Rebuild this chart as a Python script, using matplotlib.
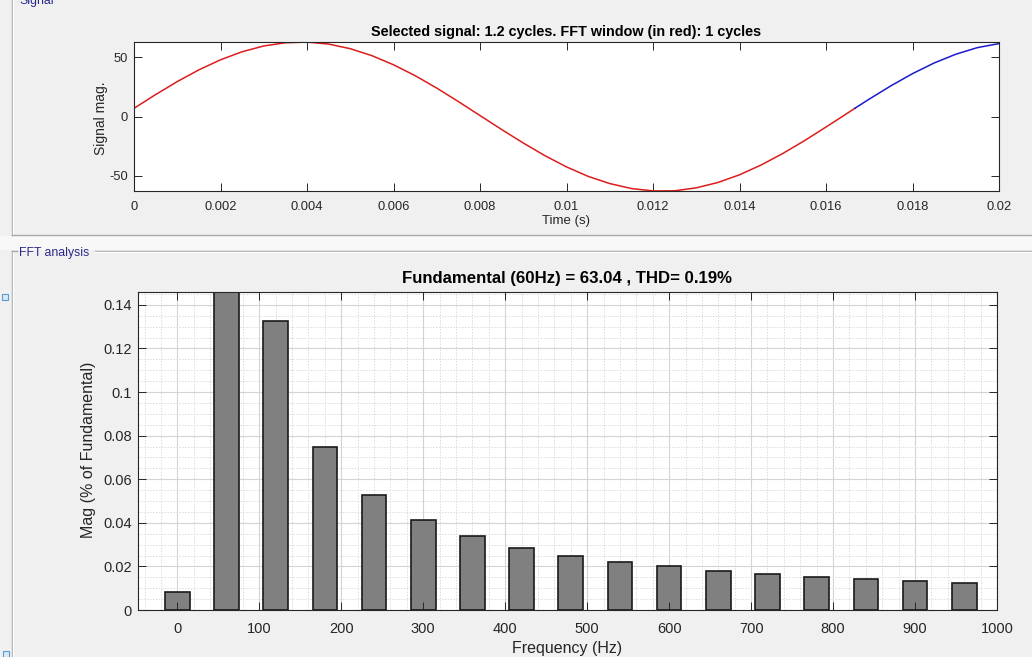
import numpy as np
import matplotlib
matplotlib.use("Agg")
import matplotlib.pyplot as plt
from matplotlib.ticker import MultipleLocator, FuncFormatter
from matplotlib.patches import Rectangle
from matplotlib.lines import Line2D

# ---- data -------------------------------------------------------------
# Sampled signal (s, value); the FFT window covers the first cycle (red).
time_s = [0.0000, 0.0005, 0.0010, 0.0015, 0.0020, 0.0025, 0.0030, 0.0035,
          0.0040, 0.0045, 0.0050, 0.0055, 0.0060, 0.0065, 0.0070, 0.0075,
          0.0080, 0.0085, 0.0090, 0.0095, 0.0100, 0.0105, 0.0110, 0.0115,
          0.0120, 0.0125, 0.0130, 0.0135, 0.0140, 0.0145, 0.0150, 0.0155,
          0.0160, 0.0165, 0.016667, 0.0170, 0.0175, 0.0180, 0.0185, 0.0190,
          0.0195, 0.0200]
signal_mag = [7.0, 18.6, 29.6, 39.5, 48.0, 54.8, 59.7, 62.4,
              63.0, 61.3, 57.4, 51.5, 43.8, 34.6, 24.1, 12.7,
              0.9, -10.9, -22.3, -33.0, -42.5, -50.5, -56.6, -60.8,
              -62.8, -62.7, -60.2, -55.7, -49.2, -40.9, -31.2, -20.4,
              -8.8, 3.0, 7.0, 14.8, 26.0, 36.3, 45.3, 52.7,
              58.3, 61.7]
fft_window_end = 0.016667

# Harmonic spectrum, magnitude in % of fundamental
freq_hz = [0, 60, 120, 180, 240, 300, 360, 420, 480, 540,
           600, 660, 720, 780, 840, 900, 960]
mag_pct = [0.0084, 100.0, 0.1327, 0.0747, 0.0529, 0.0413, 0.0340, 0.0286,
           0.0249, 0.0222, 0.0201, 0.0181, 0.0165, 0.0153, 0.0142, 0.0133,
           0.0123]

signal_title = "Selected signal: 1.2 cycles. FFT window (in red): 1 cycles"
fft_title = "Fundamental (60Hz) = 63.04 , THD= 0.19%"

# ---- figure -----------------------------------------------------------
plt.rcParams["font.family"] = ["Liberation Sans", "DejaVu Sans"]
W, H = 1032, 657
fig = plt.figure(figsize=(W / 100, H / 100), dpi=100, facecolor="#f0f0f0")


def fx(px):
    return px / W


def fy(py):
    return 1 - py / H


AX_COL = "#262626"
TXT_COL = "#262626"

# band between the two panels
fig.patches.append(Rectangle((0, fy(250)), 1, fy(236) - fy(250),
                             transform=fig.transFigure, facecolor="#f8f8f8",
                             edgecolor="none", zorder=0))


def fline(xs, ys, color, lw=1.0):
    fig.add_artist(Line2D([fx(x) for x in xs], [fy(y) for y in ys],
                          transform=fig.transFigure, color=color, lw=lw,
                          zorder=1))


# etched panel borders
fline([11.5, 11.5], [-5, 235], "#a8a8a8")
fline([12.5, 12.5], [-5, 234], "#ffffff")
fline([11.5, W + 5], [235, 235], "#a8a8a8")
fline([11.5, 11.5], [251, H + 5], "#a8a8a8")
fline([12.5, 12.5], [252, H + 5], "#ffffff")
fline([11.5, 17], [251, 251], "#a8a8a8")
fline([95, W + 5], [251, 251], "#a8a8a8")
fline([95, W + 5], [252, 252], "#ffffff")

fig.text(fx(19), fy(4), "Signal", fontsize=8.8, color="#2a2a8c",
         ha="left", va="baseline")
fig.text(fx(19), fy(253), "FFT analysis", fontsize=8.8, color="#2a2a8c",
         ha="left", va="center")

for (x0, y0) in [(2, 294), (3, 651)]:
    fig.patches.append(Rectangle((fx(x0), fy(y0 + 6)), 6 / W, 6 / H,
                                 transform=fig.transFigure,
                                 facecolor="#dbe9f7", edgecolor="#5b9bd5",
                                 lw=0.8, zorder=2))

fmt_g = FuncFormatter(lambda v, p: f"{v:g}" if abs(v) > 1e-12 else "0")


def style_axes(ax, labelsize, xpad, ypad):
    for sp in ax.spines.values():
        sp.set_color(AX_COL)
        sp.set_linewidth(0.8)
    ax.tick_params(which="major", direction="in", length=6, width=0.7,
                   color=AX_COL, labelcolor=TXT_COL, labelsize=labelsize,
                   top=True, right=True)
    ax.tick_params(axis="x", pad=xpad)
    ax.tick_params(axis="y", pad=ypad)


# ---- signal axes ------------------------------------------------------
ax1 = fig.add_axes([fx(134), fy(191.5), fx(999) - fx(134),
                    fy(41.7) - fy(191.5)])
t = np.asarray(time_s)
s = np.asarray(signal_mag)
in_win = t <= fft_window_end + 1e-9
after_win = t >= fft_window_end - 1e-9
ax1.plot(t[in_win], s[in_win], color="#dd1c1c", lw=1.1)
ax1.plot(t[after_win], s[after_win], color="#1a1acc", lw=1.1)
ax1.set_xlim(0, 0.02)
ax1.set_ylim(-63.3, 63.3)
ax1.xaxis.set_major_locator(MultipleLocator(0.002))
ax1.yaxis.set_major_locator(MultipleLocator(50))
ax1.xaxis.set_major_formatter(fmt_g)
ax1.yaxis.set_major_formatter(fmt_g)
style_axes(ax1, 9.3, 6.5, 4.5)

fig.text(fx(566.5), fy(32), signal_title, fontsize=10.4, fontweight="bold",
         ha="center", va="center", color="black")
fig.text(fx(566.5), fy(221), "Time (s)", fontsize=9.5, color=TXT_COL,
         ha="center", va="center")
fig.text(fx(101.5), fy(118), "Signal mag.", fontsize=10, color=TXT_COL,
         ha="center", va="center", rotation=90)

# ---- FFT axes ---------------------------------------------------------
rect2 = [fx(138), fy(610), fx(997) - fx(138), fy(292) - fy(610)]
ax_grid = fig.add_axes(rect2, zorder=1)
ax2 = fig.add_axes(rect2, zorder=2, sharex=ax_grid, sharey=ax_grid)
ax2.patch.set_visible(False)

ax2.set_xlim(-48, 1000)
ax2.set_ylim(0, 0.1459)
ax2.xaxis.set_major_locator(MultipleLocator(100))
ax2.xaxis.set_minor_locator(MultipleLocator(20))
ax2.yaxis.set_major_locator(MultipleLocator(0.02))
ax2.yaxis.set_minor_locator(MultipleLocator(0.005))
ax2.xaxis.set_major_formatter(fmt_g)
ax2.yaxis.set_major_formatter(fmt_g)

ax_grid.grid(which="major", color="#d4d4d4", lw=0.8, ls="-")
ax_grid.grid(which="minor", color="#dcdcdc", lw=0.7, ls=(0, (1.5, 1.5)))
ax_grid.tick_params(which="both", length=0, labelleft=False,
                    labelbottom=False)
for sp in ax_grid.spines.values():
    sp.set_visible(False)

ax2.bar(freq_hz, mag_pct, width=30, color="#808080", edgecolor="#1a1a1a",
        linewidth=1.2, zorder=1)
style_axes(ax2, 10.5, 8.5, 4.5)
ax2.tick_params(which="minor", length=0)

fig.text(fx(567), fy(278), fft_title, fontsize=12.1, fontweight="bold",
         ha="center", va="center", color="black")
fig.text(fx(567), fy(649), "Frequency (Hz)", fontsize=11.5, color=TXT_COL,
         ha="center", va="center")
fig.text(fx(88), fy(450), "Mag (% of Fundamental)", fontsize=11.5,
         color=TXT_COL, ha="center", va="center", rotation=90)

fig.savefig("out.png", dpi=100, facecolor=fig.get_facecolor())
